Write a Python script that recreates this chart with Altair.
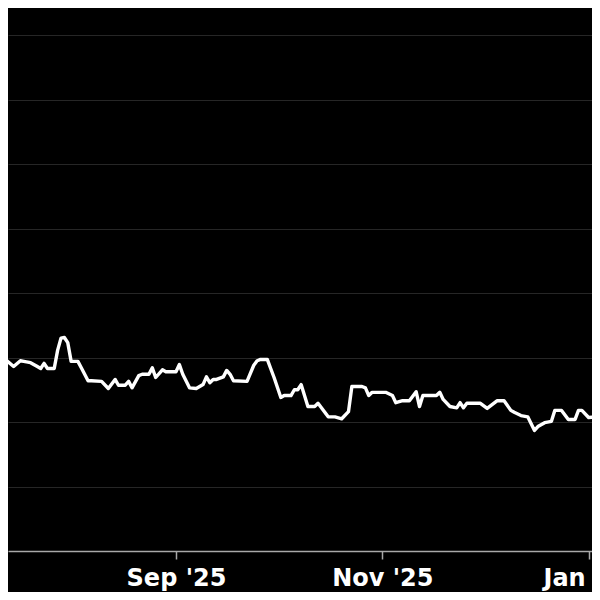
import altair as alt
import pandas as pd

dates = [
    "2025-07-11", "2025-07-12", "2025-07-13", "2025-07-15", "2025-07-17", "2025-07-18",
    "2025-07-20", "2025-07-22", "2025-07-23", "2025-07-24", "2025-07-25", "2025-07-27",
    "2025-07-28", "2025-07-29", "2025-07-30", "2025-07-31", "2025-08-01", "2025-08-03",
    "2025-08-04", "2025-08-06", "2025-08-07", "2025-08-10", "2025-08-12", "2025-08-14",
    "2025-08-15", "2025-08-17", "2025-08-18", "2025-08-19", "2025-08-21", "2025-08-22",
    "2025-08-24", "2025-08-25", "2025-08-26", "2025-08-28", "2025-08-29", "2025-09-01",
    "2025-09-02", "2025-09-03", "2025-09-05", "2025-09-07", "2025-09-09", "2025-09-10",
    "2025-09-11", "2025-09-12", "2025-09-13", "2025-09-15", "2025-09-16", "2025-09-17",
    "2025-09-18", "2025-09-22", "2025-09-24", "2025-09-25", "2025-09-26", "2025-09-28",
    "2025-09-29", "2025-09-30", "2025-10-02", "2025-10-03", "2025-10-05", "2025-10-06",
    "2025-10-07", "2025-10-08", "2025-10-10", "2025-10-12", "2025-10-13", "2025-10-16",
    "2025-10-18", "2025-10-20", "2025-10-22", "2025-10-23", "2025-10-26", "2025-10-27",
    "2025-10-28", "2025-10-29", "2025-11-02", "2025-11-04", "2025-11-05", "2025-11-07",
    "2025-11-09", "2025-11-11", "2025-11-12", "2025-11-13", "2025-11-17", "2025-11-18",
    "2025-11-19", "2025-11-21", "2025-11-23", "2025-11-24", "2025-11-25", "2025-11-26",
    "2025-11-30", "2025-12-02", "2025-12-05", "2025-12-07", "2025-12-09", "2025-12-10",
    "2025-12-12", "2025-12-14", "2025-12-16", "2025-12-17", "2025-12-19", "2025-12-21",
    "2025-12-22", "2025-12-24", "2025-12-26", "2025-12-28", "2025-12-29", "2025-12-30",
    "2026-01-01", "2026-01-04",
]
values = [
    30.3, 30.5, 29.5, 28.6, 29.5, 29.4,
    29.2, 28.6, 28.3, 29.1, 28.3, 28.3,
    31.1, 33.0, 33.1, 32.3, 29.4, 29.4,
    28.4, 26.4, 26.4, 26.3, 25.2, 26.6,
    25.7, 25.7, 26.3, 25.3, 27.2, 27.4,
    27.4, 28.4, 26.9, 28.1, 27.8, 27.8,
    28.9, 27.4, 25.3, 25.2, 25.8, 27.0,
    26.1, 26.6, 26.6, 27.0, 28.0, 27.4,
    26.4, 26.3, 28.8, 29.5, 29.7, 29.7,
    28.3, 26.9, 23.8, 24.1, 24.1, 25.0,
    25.0, 25.8, 22.4, 22.4, 22.9, 20.8,
    20.8, 20.5, 21.6, 25.5, 25.5, 25.3,
    24.1, 24.6, 24.6, 24.1, 23.0, 23.3,
    23.3, 24.7, 22.4, 24.1, 24.1, 24.6,
    23.5, 22.4, 22.2, 23.0, 22.2, 22.9,
    22.9, 22.1, 23.3, 23.3, 21.8, 21.5,
    21.0, 20.8, 18.7, 19.3, 19.9, 20.1,
    21.8, 21.8, 20.4, 20.4, 21.8, 21.8,
    20.7, 20.8,
]
grid_values = [10, 20, 30, 40, 50, 60, 70, 80]
tick_dates = [
    alt.DateTime(year=2025, month=9, date=1),
    alt.DateTime(year=2025, month=11, date=1),
    alt.DateTime(year=2026, month=1, date=1),
]

df = pd.DataFrame({"date": [d + "T00:00" for d in dates], "value": values})

chart = (
    alt.Chart(df)
    .mark_line(color="white", strokeWidth=3.4, clip=True, strokeJoin="round")
    .encode(
        x=alt.X(
            "date:T",
            scale=alt.Scale(
                domain=[
                    alt.DateTime(year=2025, month=7, date=13, hours=8),
                    alt.DateTime(year=2026, month=1, date=2, hours=0),
                ]
            ),
            axis=alt.Axis(
                values=tick_dates,
                format="%b '%y",
                title=None,
                grid=False,
                domainColor="#a8a8a8",
                domainWidth=1.5,
                tickColor="#a8a8a8",
                tickWidth=1.5,
                tickSize=8,
                labelColor="white",
                labelFont="DejaVu Sans",
                labelFontWeight="bold",
                labelFontSize=24,
                labelPadding=7,
                labelFlush=False,
                labelOverlap=False,
            ),
        ),
        y=alt.Y(
            "value:Q",
            scale=alt.Scale(domain=[0, 84.19], nice=False, zero=False),
            axis=alt.Axis(
                values=grid_values,
                labels=False,
                ticks=False,
                domain=False,
                grid=True,
                gridColor="#262626",
                gridWidth=1.2,
                title=None,
            ),
        ),
    )
    .properties(
        width=584,
        height=543,
        background="black",
        padding={"left": 0, "top": 0, "right": 0, "bottom": 41},
        autosize=alt.AutoSizeParams(type="none"),
    )
    .configure_view(stroke=None)
)

chart.save("out.html", embed_options={"renderer": "svg", "actions": False})
